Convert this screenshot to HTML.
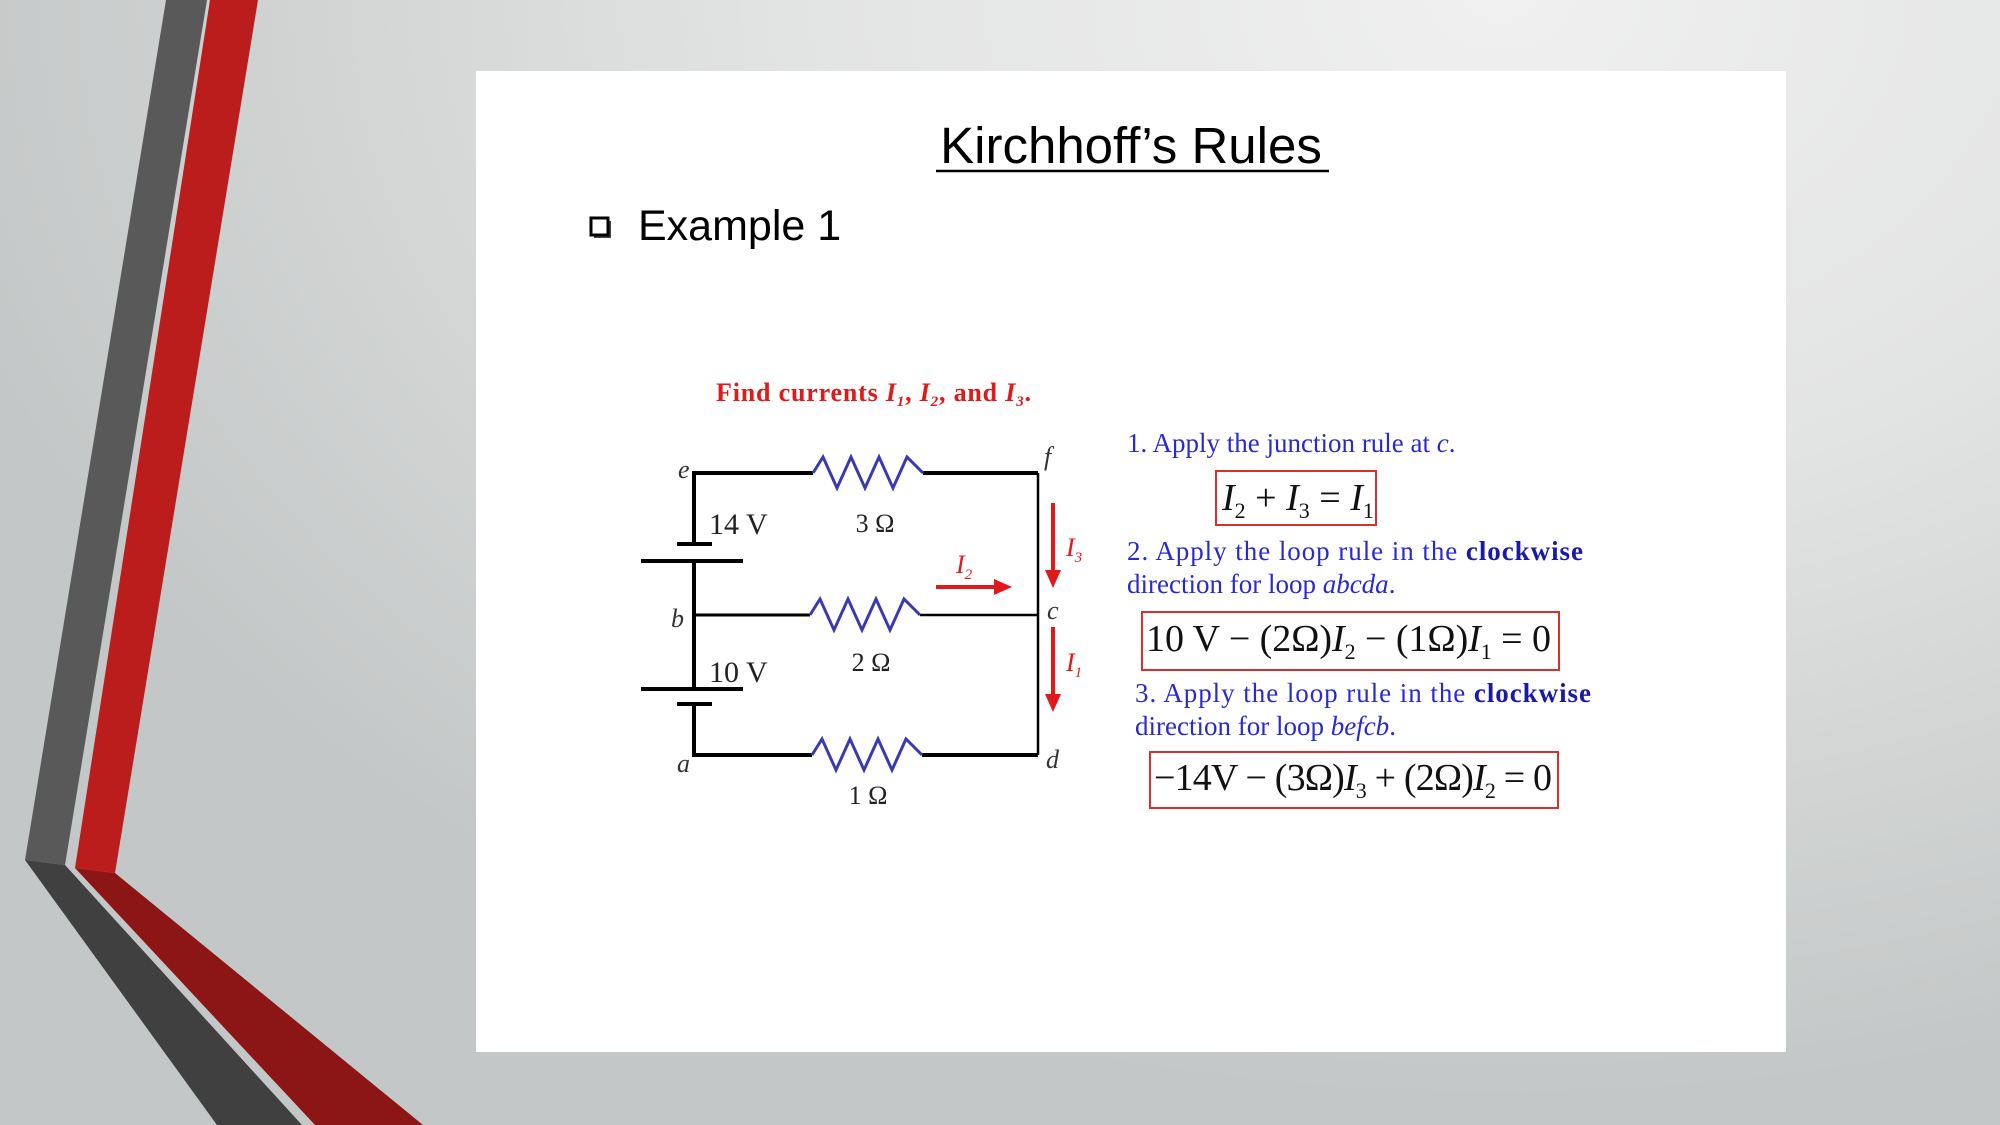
<!DOCTYPE html>
<html><head><meta charset="utf-8"><style>
html,body{margin:0;padding:0;}
body{width:2000px;height:1125px;overflow:hidden;position:relative;background:radial-gradient(ellipse 1600px 1100px at 75% 0%,#f0f0f0 0%,#e2e3e3 45%,#c4c7c7 100%);font-family:"Liberation Serif",serif;}
svg{position:absolute;left:0;top:0;}
</style></head><body>
<svg width="2000" height="1125" viewBox="0 0 2000 1125">
<polygon points="166,0 207,0 65,865 25,860" fill="#595959"/>
<polygon points="25,860 65,865 302,1125 217,1125" fill="#404040"/>
<polygon points="210,0 258,0 115,873 75,868" fill="#bb1c1c"/>
<polygon points="75,868 115,873 423,1125 315,1125" fill="#8c1515"/>
<rect x="476" y="71" width="1310" height="981" fill="#fff"/>
<text x="1131" y="163" font-family="Liberation Sans" font-size="51" text-anchor="middle" fill="#000">Kirchhoff’s Rules</text>
<line x1="936" y1="171" x2="1329" y2="171" stroke="#000" stroke-width="2.5"/>
<rect x="594" y="221" width="17" height="17" fill="#444"/>
<rect x="591" y="218" width="17" height="17" fill="#fff" stroke="#000" stroke-width="3"/>
<text x="638" y="240" font-family="Liberation Sans" font-size="43" fill="#000">Example 1</text>
<text x="716" y="401" font-size="26" font-weight="bold" fill="#e01a1a" textLength="315">Find currents <tspan font-style="italic">I</tspan><tspan font-size="15" font-style="italic" dy="5">1</tspan><tspan dy="-5">, </tspan><tspan font-style="italic">I</tspan><tspan font-size="15" font-style="italic" dy="5">2</tspan><tspan dy="-5">, and </tspan><tspan font-style="italic">I</tspan><tspan font-size="15" font-style="italic" dy="5">3</tspan><tspan dy="-5">.</tspan></text>
<g stroke="#000" stroke-width="4" fill="none">
<polyline points="813,473 694,473 694,544"/>
<line x1="923" y1="473" x2="1038" y2="473"/>
<line x1="677" y1="544" x2="712" y2="544"/>
<line x1="641" y1="561" x2="743" y2="561"/>
<line x1="694" y1="561" x2="694" y2="689"/>
<line x1="694" y1="615" x2="810" y2="615" stroke-width="3"/>
<line x1="920" y1="615" x2="1038" y2="615" stroke-width="2.5"/>
<line x1="641" y1="689" x2="743" y2="689"/>
<line x1="677" y1="704" x2="712" y2="704"/>
<polyline points="694,704 694,755 812,755"/>
<line x1="922" y1="755" x2="1038" y2="755"/>
<line x1="1038" y1="473" x2="1038" y2="755" stroke-width="2.5"/>
</g>
<g stroke="#3a3ab0" stroke-width="3" fill="none">
<polyline points="813,473 823,457 837,488 851,457 865,488 879,457 893,488 907,457 923,473"/>
<polyline points="810,615 820,599 834,630 848,599 862,630 876,599 890,630 904,599 920,615"/>
<polyline points="812,755 822,739 836,770 850,739 864,770 878,739 892,770 906,739 922,755"/>
</g>
<g font-size="30" fill="#222">
<text x="709" y="534">14 V</text>
<text x="709" y="682">10 V</text>
<text x="875" y="532" text-anchor="middle" font-size="26">3 Ω</text>
<text x="871" y="671" text-anchor="middle" font-size="26">2 Ω</text>
<text x="868" y="804" text-anchor="middle" font-size="26">1 Ω</text>
</g>
<g font-size="26" font-style="italic" fill="#333">
<text x="678" y="478">e</text>
<text x="671" y="627">b</text>
<text x="677" y="772">a</text>
<text x="1044" y="465">f</text>
<text x="1047" y="619">c</text>
<text x="1046" y="768">d</text>
</g>
<g fill="#e01a1a" stroke="#e01a1a">
<line x1="1053" y1="503" x2="1053" y2="572" stroke-width="4"/>
<polygon points="1045,570 1061,570 1053,588" stroke="none"/>
<line x1="1053" y1="627" x2="1053" y2="696" stroke-width="4"/>
<polygon points="1045,694 1061,694 1053,712" stroke="none"/>
<line x1="936" y1="587" x2="996" y2="587" stroke-width="4"/>
<polygon points="994,579 994,595 1012,587" stroke="none"/>
</g>
<g font-size="26" font-style="italic" fill="#e01a1a">
<text x="1066" y="556">I<tspan font-size="15" dy="6">3</tspan></text>
<text x="1066" y="671">I<tspan font-size="15" dy="6">1</tspan></text>
<text x="956" y="573">I<tspan font-size="15" dy="6">2</tspan></text>
</g>
<g font-size="27" fill="#2a2acc">
<text x="1127" y="452">1. Apply the junction rule at <tspan font-style="italic">c</tspan>.</text>
<text x="1127" y="560" textLength="456">2. Apply the loop rule in the <tspan font-weight="bold" fill="#1a1aa8">clockwise</tspan></text>
<text x="1127" y="593">direction for loop <tspan font-style="italic">abcda</tspan>.</text>
<text x="1135" y="702" textLength="456">3. Apply the loop rule in the <tspan font-weight="bold" fill="#1a1aa8">clockwise</tspan></text>
<text x="1135" y="735">direction for loop <tspan font-style="italic">befcb</tspan>.</text>
</g>
<g fill="none" stroke="#d83030" stroke-width="2">
<rect x="1216" y="471" width="160" height="54"/>
<rect x="1142" y="612" width="417" height="58"/>
<rect x="1150" y="752" width="408" height="56"/>
</g>
<g font-size="38" fill="#111">
<text x="1222" y="510"><tspan font-style="italic">I</tspan><tspan font-size="22" dy="8">2</tspan><tspan dy="-8"> + </tspan><tspan font-style="italic">I</tspan><tspan font-size="22" dy="8">3</tspan><tspan dy="-8"> = </tspan><tspan font-style="italic">I</tspan><tspan font-size="22" dy="8">1</tspan></text>
<text x="1146" y="651" textLength="405">10 V − (2Ω)<tspan font-style="italic">I</tspan><tspan font-size="22" dy="8">2</tspan><tspan dy="-8"> − (1Ω)</tspan><tspan font-style="italic">I</tspan><tspan font-size="22" dy="8">1</tspan><tspan dy="-8"> = 0</tspan></text>
<text x="1154" y="790" textLength="398">−14V − (3Ω)<tspan font-style="italic">I</tspan><tspan font-size="22" dy="8">3</tspan><tspan dy="-8"> + (2Ω)</tspan><tspan font-style="italic">I</tspan><tspan font-size="22" dy="8">2</tspan><tspan dy="-8"> = 0</tspan></text>
</g>
</svg>
</body></html>
